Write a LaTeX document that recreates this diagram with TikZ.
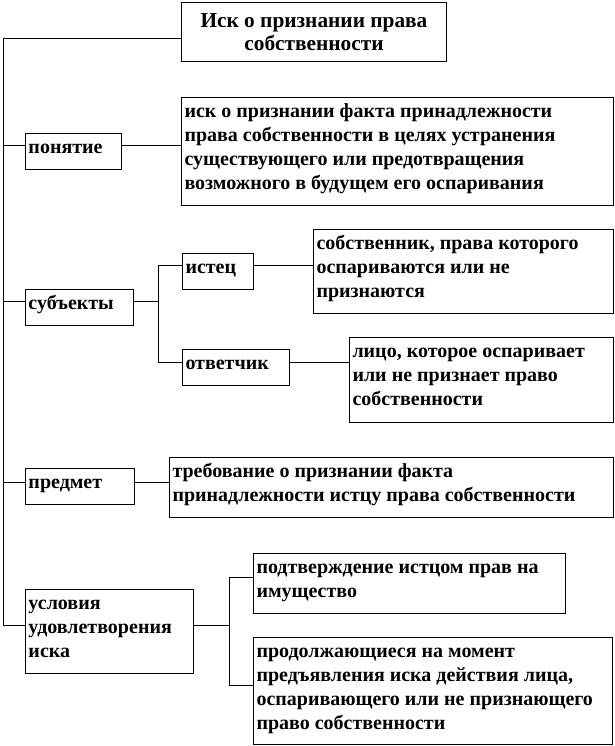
\documentclass[tikz,border=0pt]{standalone}
\usepackage{fontspec}
\setmainfont{Liberation Serif}
\usepackage{tikz}

\newdimen\pxu
\pxu=0.75pt
\newcommand{\cell}[3]{\parbox[c][#2\pxu][t]{#1\pxu}{\raggedright\strut #3}}

\begin{document}
\begin{tikzpicture}[x=0.75pt,y=-0.75pt,line width=0.75pt,
    box/.style={draw,rectangle,anchor=north west,inner sep=3\pxu,
        font=\fontsize{15}{18}\selectfont\bfseries}]
    \useasboundingbox (0,0) rectangle (614,746);
    \node[box,font=\fontsize{16}{15}\selectfont\bfseries] (title) at (181,2) {\cell{259}{53}{\centering\rule{0pt}{16.5pt}Иск о признании права\\ собственности}};
    \node[box] (pon) at (25,133) {\cell{90}{30}{понятие}};
    \node[box] (def) at (181,97) {\cell{426}{102}{иск о признании факта принадлежности\\ права собственности в целях устранения\\ существующего или предотвращения\\ возможного в будущем его оспаривания}};
    \node[box] (subj) at (25,289) {\cell{102}{30}{субъекты}};
    \node[box] (ist) at (182,253) {\cell{65}{30}{истец}};
    \node[box] (owner) at (313,229) {\cell{294}{78}{собственник, права которого\\ оспариваются или не\\ признаются}};
    \node[box] (otv) at (182,349) {\cell{101}{30}{ответчик}};
    \node[box] (face) at (349,337) {\cell{258}{79}{лицо, которое оспаривает\\ или не признает право\\ собственности}};
    \node[box] (pred) at (25,468) {\cell{103}{30}{предмет}};
    \node[box] (claim) at (169,457) {\cell{438}{54}{требование о признании факта\\ принадлежности истцу права собственности}};
    \node[box] (cond) at (25,589) {\cell{162}{78}{условия\\ удовлетворения\\ иска}};
    \node[box] (conf) at (253,553) {\cell{306}{54}{подтверждение истцом прав на\\ имущество}};
    \node[box] (cont) at (253,637) {\cell{353}{101}{продолжающиеся на момент\\ предъявления иска действия лица,\\ оспаривающего или не признающего\\ право собственности}};
    \coordinate (t0) at (3,38);
    \coordinate (t1) at (3,145);
    \coordinate (t2) at (3,301);
    \coordinate (t3) at (3,482);
    \coordinate (t4) at (3,625);
    \coordinate (b0) at (158,301);
    \coordinate (b1) at (158,265);
    \coordinate (b2) at (158,362);
    \coordinate (c0) at (229,625);
    \coordinate (c1) at (229,577);
    \coordinate (c2) at (229,685);
    \draw[-] (t0) to (t0 -| title.west);
    \draw[-] (t0) to (t4);
    \draw[-] (t1) to (t1 -| pon.west);
    \draw[-] (t1 -| pon.east) to (t1 -| def.west);
    \draw[-] (t2) to (t2 -| subj.west);
    \draw[-] (t2 -| subj.east) to (b0);
    \draw[-] (b1) to (b2);
    \draw[-] (b1) to (b1 -| ist.west);
    \draw[-] (b1 -| ist.east) to (b1 -| owner.west);
    \draw[-] (b2) to (b2 -| otv.west);
    \draw[-] (b2 -| otv.east) to (b2 -| face.west);
    \draw[-] (t3) to (t3 -| pred.west);
    \draw[-] (t3 -| pred.east) to (t3 -| claim.west);
    \draw[-] (t4) to (t4 -| cond.west);
    \draw[-] (t4 -| cond.east) to (c0);
    \draw[-] (c1) to (c2);
    \draw[-] (c1) to (c1 -| conf.west);
    \draw[-] (c2) to (c2 -| cont.west);
\end{tikzpicture}
\end{document}
